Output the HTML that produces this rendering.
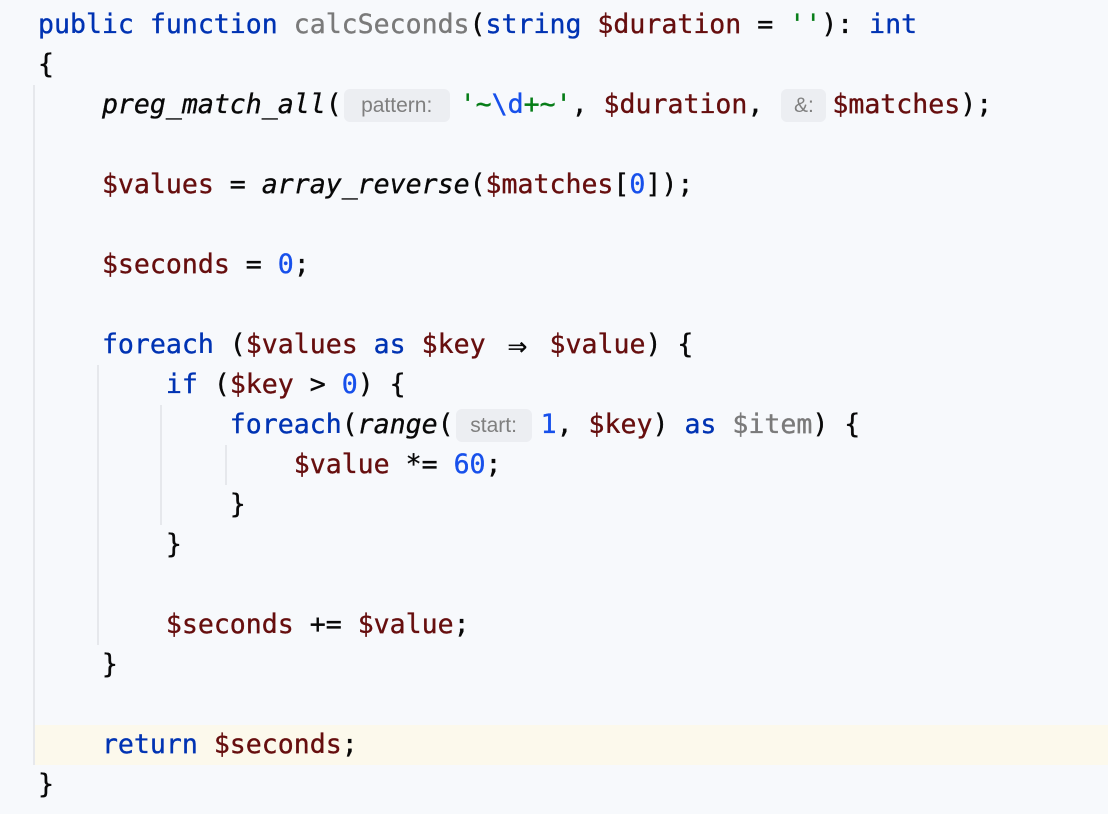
<!DOCTYPE html>
<html><head><meta charset="utf-8"><style>
html,body{margin:0;padding:0}
body{width:1108px;height:814px;background:#f7f9fc;position:relative;overflow:hidden;font-family:"DejaVu Sans Mono","Liberation Mono",monospace;}
.l{position:absolute;left:38px;height:40px;line-height:40px;font-size:26.55px;white-space:pre;color:#080808;letter-spacing:0;-webkit-text-stroke:0.35px currentColor}
.k{color:#0033b3}.v{color:#660e0e}.g{color:#7a7a7a}.s{color:#067d17}.n{color:#1750eb}.i{font-style:italic}
.h{display:inline-block;position:relative;height:40px;vertical-align:top}
.h b{position:absolute;top:4px;height:33px;line-height:33px;background:#eceef2;border-radius:6px;font-family:"Liberation Sans",sans-serif;font-size:21px;color:#7f7f7f;text-align:center;font-weight:normal;-webkit-text-stroke:0}
.guide{position:absolute;width:2px;background:#e6e8ec}
.cur{position:absolute;left:35px;right:0;top:725px;height:40px;background:#fcf9ec}
.arr{display:inline-block;width:32px;text-align:center;font-size:32px;line-height:40px;vertical-align:top}
</style></head><body>
<div class="cur"></div>
<div class="guide" style="left:33px;top:85px;height:680px"></div>
<div class="guide" style="left:97px;top:365px;height:280px"></div>
<div class="guide" style="left:160px;top:405px;height:120px"></div>
<div class="guide" style="left:225px;top:445px;height:40px"></div>
<div class="l" style="top:5px"><span class="k">public function </span><span class="g">calcSeconds</span>(<span class="k">string </span><span class="v">$duration</span> = <span class="s">''</span>): <span class="k">int</span></div>
<div class="l" style="top:45px">{</div>
<div class="l" style="top:85px">    <span class="i">preg_match_all</span>(<span class="h" style="width:118px"><b style="left:2px;width:106px">pattern:</b></span><span class="s">'~<span class="n">\d</span>+~'</span>, <span class="v">$duration</span>, <span class="h" style="width:53px"><b style="left:2px;width:45px">&amp;:</b></span><span class="v">$matches</span>);</div>
<div class="l" style="top:165px">    <span class="v">$values</span> = <span class="i">array_reverse</span>(<span class="v">$matches</span>[<span class="n">0</span>]);</div>
<div class="l" style="top:245px">    <span class="v">$seconds</span> = <span class="n">0</span>;</div>
<div class="l" style="top:325px">    <span class="k">foreach</span> (<span class="v">$values</span> <span class="k">as</span> <span class="v">$key</span> <span class="arr">⇒</span> <span class="v">$value</span>) {</div>
<div class="l" style="top:365px">        <span class="k">if</span> (<span class="v">$key</span> &gt; <span class="n">0</span>) {</div>
<div class="l" style="top:405px">            <span class="k">foreach</span>(<span class="i">range</span>(<span class="h" style="width:87px"><b style="left:2px;width:76px">start:</b></span><span class="n">1</span>, <span class="v">$key</span>) <span class="k">as</span> <span class="g">$item</span>) {</div>
<div class="l" style="top:445px">                <span class="v">$value</span> *= <span class="n">60</span>;</div>
<div class="l" style="top:485px">            }</div>
<div class="l" style="top:525px">        }</div>
<div class="l" style="top:605px">        <span class="v">$seconds</span> += <span class="v">$value</span>;</div>
<div class="l" style="top:645px">    }</div>
<div class="l" style="top:725px">    <span class="k">return</span> <span class="v">$seconds</span>;</div>
<div class="l" style="top:765px">}</div>
</body></html>
